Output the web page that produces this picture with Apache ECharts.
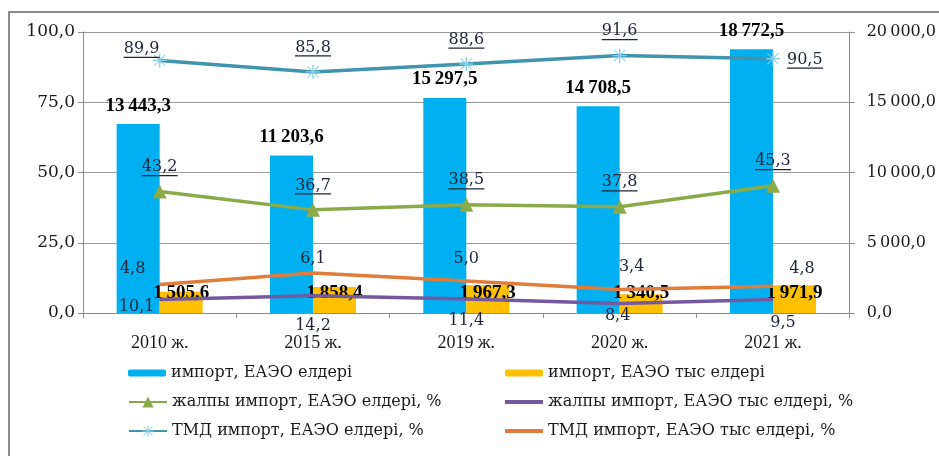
<!DOCTYPE html>
<html><head><meta charset="utf-8">
<script src="https://cdn.jsdelivr.net/npm/echarts@6/dist/echarts.min.js"></script>
<style>html,body{margin:0;padding:0;background:#fff}#c{width:939px;height:456px}</style>
</head><body><div id="c"></div>
<script>
// ---- data ----
const categories = ['2010 ж.', '2015 ж.', '2019 ж.', '2020 ж.', '2021 ж.'];
const importEaeu = [13443.3, 11203.6, 15297.5, 14708.5, 18772.5];
const importNonEaeu = [1505.6, 1858.4, 1967.3, 1340.5, 1971.9];
const totalShareEaeu = [43.2, 36.7, 38.5, 37.8, 45.3];
const totalShareNonEaeu = [4.8, 6.1, 5.0, 3.4, 4.8];
const cisShareEaeu = [89.9, 85.8, 88.6, 91.6, 90.5];
const cisShareNonEaeu = [10.1, 14.2, 11.4, 8.4, 9.5];
const seriesNames = [
  'импорт, ЕАЭО елдері',
  'импорт, ЕАЭО тыс елдері',
  'жалпы импорт, ЕАЭО елдері, %',
  'жалпы импорт, ЕАЭО тыс елдері, %',
  'ТМД импорт, ЕАЭО елдері, %',
  'ТМД импорт, ЕАЭО тыс елдері, %'
];

// ---- layout helpers (label nudges, not data) ----
const purpleLabelNudge = [[-27, -17], [0, -24], [0, -27], [12, -23], [29, -17]];
const orangeLabelNudge = [[-23, 9], [0, 39], [0, 26], [-2, 13], [10, 23]];

function fmt(v) {
  const s = v.toFixed(1);
  let [i, d] = s.split('.');
  i = i.replace(/\B(?=(\d{3})+(?!\d))/g, '\u2009');
  return i + ',' + d;
}

const serif = 'Liberation Serif';
const wide = 'DejaVu Serif';
const labelColor = '#1f2436';

// underlined labels via rich text: text row + thin bar row of the text's width
const mctx = document.createElement('canvas').getContext('2d');
mctx.font = '16px "DejaVu Serif"';
const ulRich = {t: {fontFamily: wide, fontSize: 16, color: labelColor, lineHeight: 15}};
for (let w = 10; w <= 80; w++) ulRich['u' + w] = {width: w, height: 1.3, lineHeight: 2, backgroundColor: labelColor};
function ul(s) {
  const w = Math.max(10, Math.min(80, Math.round(mctx.measureText(s).width)));
  return '{t|' + s + '}\n{u' + w + '|}';
}

const asterisk = 'path://M9,0 L11,0 L11,20 L9,20 Z M1.5,2.5 L2.5,1.5 L18.5,17.5 L17.5,18.5 Z M17.5,1.5 L18.5,2.5 L2.5,18.5 L1.5,17.5 Z M0,9 L20,9 L20,11 L0,11 Z';

const C = {blue:'#00b0f0', yellow:'#ffc000', green:'#8bab4b', purple:'#7458a0', cyan:'#4094ad', orange:'#e07d3c', star:'#86d0e8'};

const chart = echarts.init(document.getElementById('c'), null, {renderer: 'canvas'});
const legendText = {fontFamily: wide, fontSize: 16, color: '#1a1a1a', lineHeight: 16};
function lg(name, left, rowCenter, h, icon) {
  const d = {name: name};
  if (icon) d.icon = icon;
  return {data: [d], left: left, top: rowCenter - 8, itemWidth: 38, itemHeight: h, selectedMode: false, textStyle: legendText, padding: 0};
}

chart.setOption({
  animation: false,
  backgroundColor: '#fff',
  graphic: [{type: 'rect', silent: true, z: -10, shape: {x: 9, y: 12, width: 1000, height: 500}, style: {fill: 'none', stroke: '#8a8a8a', lineWidth: 2}}],
  grid: {left: 83, right: 89, top: 32, bottom: 143},
  legend: [
    lg(seriesNames[0], 128, 373, 7),
    lg(seriesNames[1], 505, 373, 7),
    lg(seriesNames[2], 128, 402, 14),
    lg(seriesNames[3], 505, 402, 4, 'rect'),
    lg(seriesNames[4], 128, 431, 14),
    lg(seriesNames[5], 505, 431, 4, 'rect')
  ],
  xAxis: {
    type: 'category', data: categories,
    axisLine: {lineStyle: {color: '#8c8c8c', width: 1}},
    axisTick: {show: true, length: 5, lineStyle: {color: '#8c8c8c'}},
    axisLabel: {fontFamily: serif, fontSize: 18, color: '#1a1a1a', margin: 21}
  },
  yAxis: [
    {
      type: 'value', min: 0, max: 100, interval: 25, position: 'left',
      axisLine: {show: true, lineStyle: {color: '#8c8c8c'}},
      axisTick: {show: true, length: 5, lineStyle: {color: '#8c8c8c'}},
      splitLine: {show: true, lineStyle: {color: '#9a9a9a', width: 1}},
      axisLabel: {fontFamily: wide, fontSize: 17, color: '#1a1a1a', margin: 8, formatter: v => fmt(v)}
    },
    {
      type: 'value', min: 0, max: 20000, interval: 5000, position: 'right',
      axisLine: {show: true, lineStyle: {color: '#8c8c8c'}},
      axisTick: {show: true, length: 5, lineStyle: {color: '#8c8c8c'}},
      splitLine: {show: false},
      axisLabel: {fontFamily: wide, fontSize: 16, color: '#1a1a1a', margin: 17, formatter: v => fmt(v)}
    }
  ],
  series: [
    {
      name: seriesNames[0], type: 'bar', yAxisIndex: 1, data: importEaeu,
      barWidth: 43, barGap: '0%', itemStyle: {color: C.blue},
      label: {show: true, position: 'top', distance: 9, fontFamily: serif, fontWeight: 'bold', fontSize: 19, color: '#000', formatter: p => fmt(p.value)}
    },
    {
      name: seriesNames[1], type: 'bar', yAxisIndex: 1, data: importNonEaeu,
      barWidth: 43, barGap: '0%', itemStyle: {color: C.yellow},
      label: {show: true, position: 'insideBottom', distance: 10, fontFamily: serif, fontWeight: 'bold', fontSize: 19, color: '#000', formatter: p => fmt(p.value)}
    },
    {
      name: seriesNames[2], type: 'line', yAxisIndex: 0, data: totalShareEaeu,
      symbol: 'triangle', symbolSize: 14, lineStyle: {color: C.green, width: 3.5}, itemStyle: {color: C.green},
      label: {show: true, position: 'top', distance: 8, rich: ulRich, formatter: p => ul(fmt(p.value))}
    },
    {
      name: seriesNames[3], type: 'line', yAxisIndex: 0,
      data: totalShareNonEaeu.map((v, i) => ({value: v, label: {offset: purpleLabelNudge[i]}})),
      symbol: 'circle', symbolSize: 1, lineStyle: {color: C.purple, width: 3.5}, itemStyle: {color: C.purple},
      label: {show: true, position: 'top', distance: 5, fontFamily: wide, fontSize: 16, color: labelColor, formatter: p => fmt(p.value)}
    },
    {
      name: seriesNames[4], type: 'line', yAxisIndex: 0,
      data: cisShareEaeu.map((v, i) => i === 0 ? {value: v, label: {offset: [-18, 13]}} : (i === cisShareEaeu.length - 1 ? {value: v, label: {position: 'right', distance: 7, offset: [0, 2]}} : v)),
      symbol: asterisk, symbolSize: 14, lineStyle: {color: C.cyan, width: 3.5}, itemStyle: {color: C.star},
      label: {show: true, position: 'top', distance: 8, rich: ulRich, formatter: p => ul(fmt(p.value))}
    },
    {
      name: seriesNames[5], type: 'line', yAxisIndex: 0,
      data: cisShareNonEaeu.map((v, i) => ({value: v, label: {offset: orangeLabelNudge[i]}})),
      symbol: 'circle', symbolSize: 1, lineStyle: {color: C.orange, width: 3.5}, itemStyle: {color: C.orange},
      label: {show: true, position: 'bottom', distance: 5, fontFamily: wide, fontSize: 16, color: labelColor, formatter: p => fmt(p.value)}
    }
  ]
});
</script></body></html>
